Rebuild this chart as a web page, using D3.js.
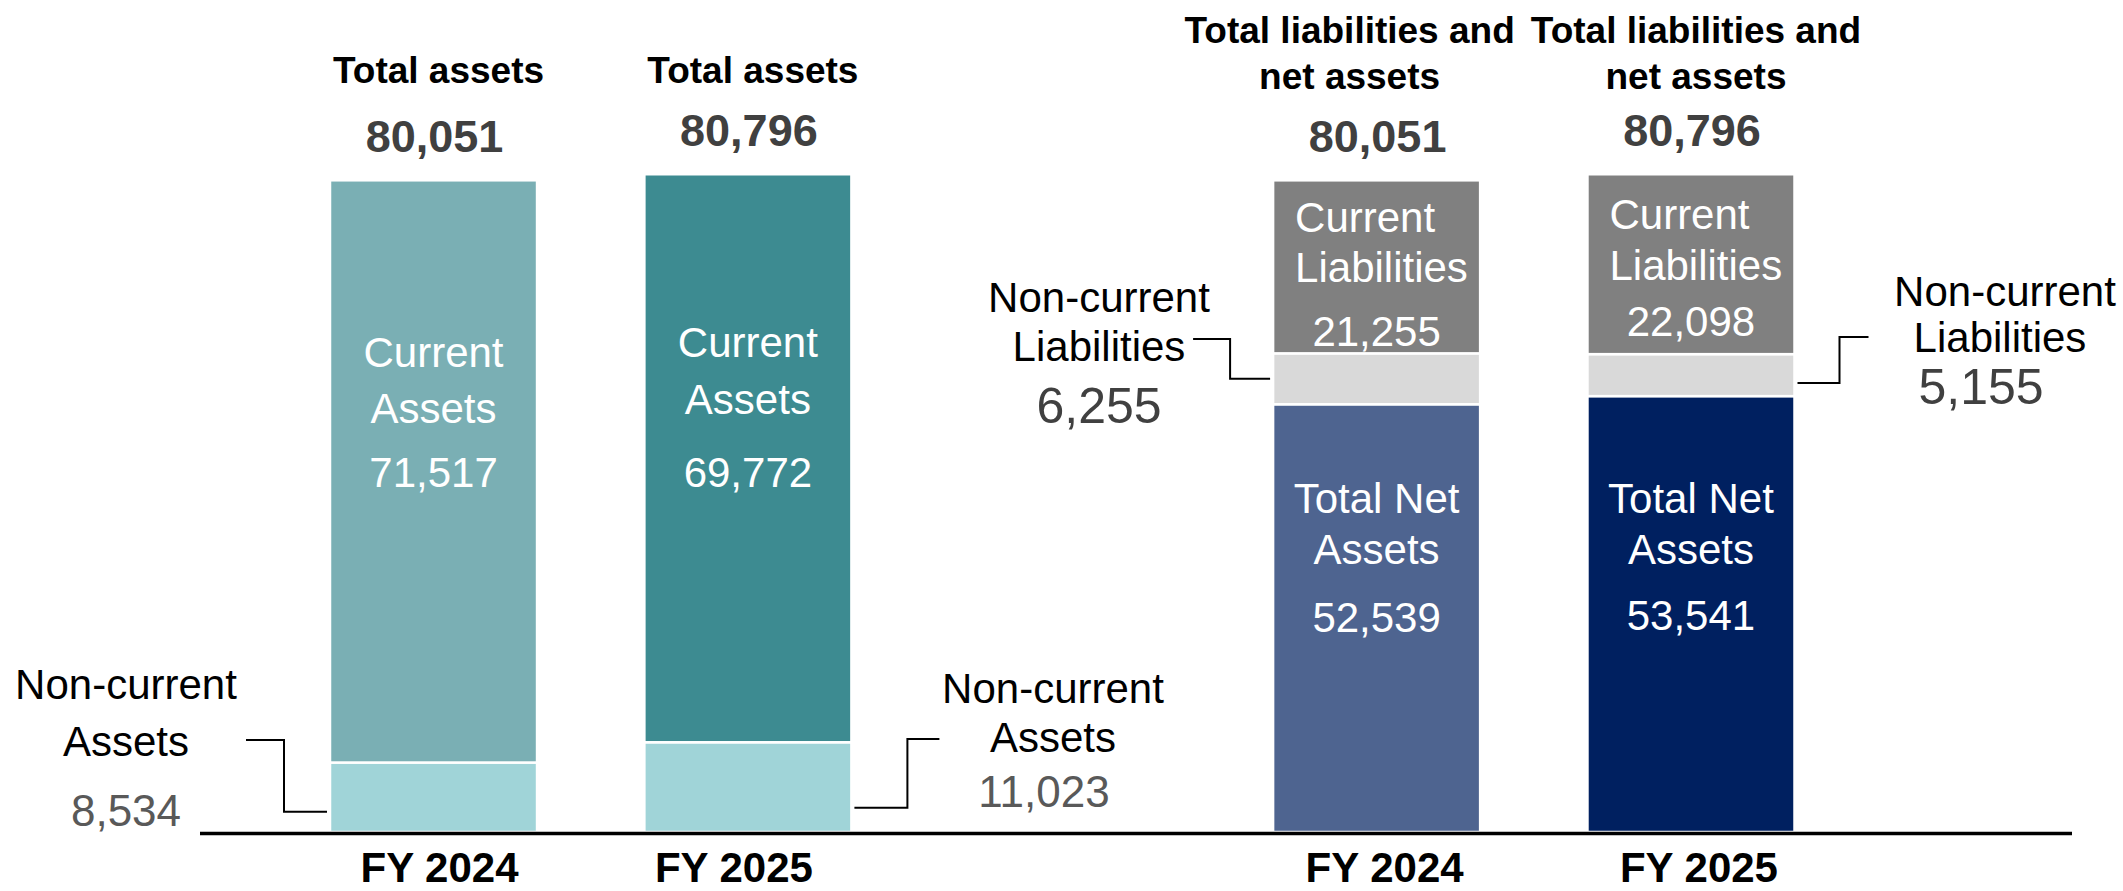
<!DOCTYPE html>
<html>
<head>
<meta charset="utf-8">
<script src="https://cdn.jsdelivr.net/npm/d3@7"></script>
<style>
  html, body { margin: 0; padding: 0; background: #fff; }
  svg { display: block; }
  text { font-family: "Liberation Sans", Arial, sans-serif; }
</style>
</head>
<body>
<svg id="chart" width="2123" height="891"></svg>
<script>
// ---------- data ----------
const years = ["FY 2024", "FY 2025"];
const currentAssets = [71517, 69772];
const nonCurrentAssets = [8534, 11023];
const currentLiabilities = [21255, 22098];
const nonCurrentLiabilities = [6255, 5155];
const totalNetAssets = [52539, 53541];
const totals = [80051, 80796];
const slots = ["A0", "A1", "gap", "L0", "L1"];

// ---------- layout ----------
const svg = d3.select("#chart");
const y0 = 832;
const y = d3.scaleLinear().domain([0, 100000]).range([y0, y0 - 814.1]);
const x = d3.scaleBand().domain(slots).range([330, 1794.5]).paddingInner(0.3414).paddingOuter(0);
const bw = x.bandwidth();
const fmt = d3.format(",");

const colors = {
  ca: ["#7AAFB4", "#3D8B91"],
  nca: "#A0D4D8",
  cl: "#808080",
  ncl: "#D9D9D9",
  na: ["#4E6490", "#002060"]
};

// build stacked segments
const segs = [];
years.forEach((yr, i) => {
  segs.push({ slot: "A" + i, lo: 0, hi: nonCurrentAssets[i], fill: colors.nca });
  segs.push({ slot: "A" + i, lo: nonCurrentAssets[i], hi: nonCurrentAssets[i] + currentAssets[i], fill: colors.ca[i] });
  const n = totalNetAssets[i], nc = nonCurrentLiabilities[i], c = currentLiabilities[i];
  segs.push({ slot: "L" + i, lo: 0, hi: n, fill: colors.na[i] });
  segs.push({ slot: "L" + i, lo: n, hi: n + nc, fill: colors.ncl });
  segs.push({ slot: "L" + i, lo: n + nc, hi: n + nc + c, fill: colors.cl });
});

svg.append("g").selectAll("rect").data(segs).join("rect")
  .attr("x", d => x(d.slot))
  .attr("width", bw)
  .attr("y", d => y(d.hi))
  .attr("height", d => y(d.lo) - y(d.hi))
  .attr("fill", d => d.fill)
  .attr("stroke", "#fff")
  .attr("stroke-width", 2.5);

// baseline axis
svg.append("line")
  .attr("x1", 200).attr("x2", 2072)
  .attr("y1", y0 + 1.5).attr("y2", y0 + 1.5)
  .attr("stroke", "#000").attr("stroke-width", 3.5);

// category labels
slots.filter(s => s !== "gap").forEach(s => {
  const i = +s[1];
  svg.append("text")
    .attr("x", x(s) + bw / 2 + (s === "A1" ? -14 : (s[0] === "L" ? 8 : 6)))
    .attr("y", 882)
    .attr("text-anchor", "middle")
    .attr("font-size", 42).attr("font-weight", "bold").attr("fill", "#000")
    .text(years[i]);
});

// titles and totals
const titleShift = [-27, 5];
years.forEach((yr, i) => {
  const cxA = x("A" + i) + bw / 2, cxL = x("L" + i) + bw / 2;
  const top = y(totals[i]);
  svg.append("text").attr("x", cxA + 5).attr("y", 83).attr("text-anchor", "middle")
    .attr("font-size", 37).attr("font-weight", "bold").attr("fill", "#000").text("Total assets");
  const tl = svg.append("text").attr("text-anchor", "middle")
    .attr("font-size", 37).attr("font-weight", "bold").attr("fill", "#000");
  tl.append("tspan").attr("x", cxL + titleShift[i]).attr("y", 43).text("Total liabilities and");
  tl.append("tspan").attr("x", cxL + titleShift[i]).attr("y", 89).text("net assets");
  [cxA, cxL].forEach(cx => {
    svg.append("text").attr("x", cx + 1).attr("y", top - 28).attr("text-anchor", "middle")
      .attr("font-size", 45).attr("font-weight", "bold").attr("fill", "#404040").text(fmt(totals[i]));
  });
});

// in-bar labels
function lines(xPos, anchor, rows, size, color, family) {
  rows.forEach(r => {
    svg.append("text").attr("x", r.x !== undefined ? r.x : xPos).attr("y", r.y)
      .attr("text-anchor", r.anchor || anchor)
      .attr("font-size", r.size || size).attr("fill", r.color || color)
      .attr("font-family", r.family || family || null)
      .text(r.t);
  });
}
const caY = [[367, 423, 487], [357, 414, 487]];
const clY = [[232, 282, 346], [229, 280, 336]];
const naY = [[513, 564, 632], [513, 564, 630]];
years.forEach((yr, i) => {
  const cxA = x("A" + i) + bw / 2, xL = x("L" + i), cxL = xL + bw / 2;
  lines(cxA, "middle", [
    { t: "Current", y: caY[i][0] },
    { t: "Assets", y: caY[i][1] },
    { t: fmt(currentAssets[i]), y: caY[i][2] }
  ], 42, "#fff");
  lines(xL + 22, "start", [
    { t: "Current", y: clY[i][0] },
    { t: "Liabilities", y: clY[i][1] },
    { t: fmt(currentLiabilities[i]), y: clY[i][2], x: cxL, anchor: "middle" }
  ], 42, "#fff");
  lines(cxL, "middle", [
    { t: "Total Net", y: naY[i][0] },
    { t: "Assets", y: naY[i][1] },
    { t: fmt(totalNetAssets[i]), y: naY[i][2] }
  ], 42, "#fff");
});

// outside labels for non-current items
lines(126, "middle", [
  { t: "Non-current", y: 699 },
  { t: "Assets", y: 756 },
  { t: fmt(nonCurrentAssets[0]), y: 826, size: 44, color: "#595959" }
], 42, "#000");
lines(1053, "middle", [
  { t: "Non-current", y: 703 },
  { t: "Assets", y: 752 },
  { t: fmt(nonCurrentAssets[1]), y: 807, size: 44, color: "#595959", x: 1044 }
], 42, "#000");
lines(1099, "middle", [
  { t: "Non-current", y: 312 },
  { t: "Liabilities", y: 361 },
  { t: fmt(nonCurrentLiabilities[0]), y: 423, size: 50, color: "#404040", family: "'Open Sans', sans-serif" }
], 42, "#000");
lines(2005, "middle", [
  { t: "Non-current", y: 306 },
  { t: "Liabilities", y: 352, x: 2000 },
  { t: fmt(nonCurrentLiabilities[1]), y: 404, size: 50, color: "#404040", family: "'Open Sans', sans-serif", x: 1981 }
], 42, "#000");

// leader lines (anchor at a fraction of the non-current segment)
const leaders = [
  { slot: "A0", side: "left", lo: 0, hi: nonCurrentAssets[0], frac: 0.29, dx: [-81, -43], yEnd: 740 },
  { slot: "A1", side: "right", lo: 0, hi: nonCurrentAssets[1], frac: 0.27, dx: [53, 85], yEnd: 739 },
  { slot: "L0", side: "left", lo: totalNetAssets[0], hi: totalNetAssets[0] + nonCurrentLiabilities[0], frac: 0.5, dx: [-77, -40], yEnd: 339 },
  { slot: "L1", side: "right", lo: totalNetAssets[1], hi: totalNetAssets[1] + nonCurrentLiabilities[1], frac: 0.31, dx: [42, 71], yEnd: 337 }
];
leaders.forEach(l => {
  const left = l.side === "left";
  const edge = left ? x(l.slot) - 3 : x(l.slot) + bw + 3;
  const ya = y(l.lo + (l.hi - l.lo) * l.frac);
  const pts = left
    ? [[edge + l.dx[0], l.yEnd], [edge + l.dx[1], l.yEnd], [edge + l.dx[1], ya], [edge, ya]]
    : [[edge, ya], [edge + l.dx[0], ya], [edge + l.dx[0], l.yEnd], [edge + l.dx[1], l.yEnd]];
  svg.append("path")
    .attr("d", d3.line()(pts))
    .attr("fill", "none").attr("stroke", "#000").attr("stroke-width", 2);
});
</script>
</body>
</html>
